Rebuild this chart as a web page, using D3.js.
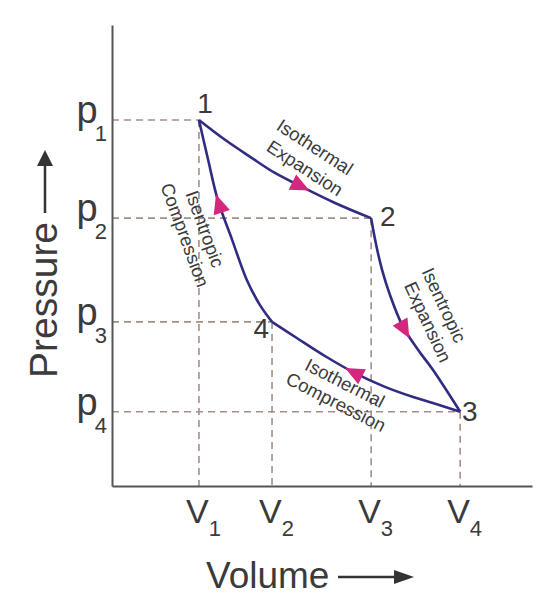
<!DOCTYPE html>
<html>
<head>
<meta charset="utf-8">
<script src="https://cdn.jsdelivr.net/npm/d3@7"></script>
<style>
  html, body { margin: 0; padding: 0; background: #fff; }
  svg { display: block; font-family: "Liberation Sans", Arial, Helvetica, sans-serif; }
</style>
</head>
<body>
<svg id="chart" width="560" height="606"></svg>
<script>
// ---- data (abstract units, 0..100 on both axes) ----
const volumeLabels = ["1", "2", "3", "4"];            // subscripts of V
const volumeValues = [20.7, 38.1, 61.7, 82.9];
const pressureLabels = ["1", "2", "3", "4"];          // subscripts of p
const pressureValues = [79.4, 58.1, 35.6, 16.1];

const stateNames = ["1", "2", "3", "4"];
const stateVolumes = [20.7, 61.7, 82.9, 38.1];
const statePressures = [79.4, 58.1, 16.1, 35.6];

// process curves (volume, pressure)
const isothermalExpansionV = [20.7, 26.9, 32.9, 38.8, 45.2, 53.1, 61.7];
const isothermalExpansionP = [79.4, 75.1, 71.4, 67.9, 64.9, 61.4, 58.1];
const isentropicExpansionV = [61.7, 62.9, 64.3, 66.2, 69.3, 72.9, 76.4, 82.9];
const isentropicExpansionP = [58.1, 52.3, 46.9, 41.4, 34.5, 29.5, 25.2, 16.1];
const isothermalCompressionV = [82.9, 76.4, 71.7, 65.0, 57.4, 50.7, 44.0, 38.1];
const isothermalCompressionP = [16.1, 18.0, 19.3, 21.5, 24.7, 28.2, 32.1, 35.6];
const isentropicCompressionV = [38.1, 35.2, 32.1, 28.6, 25.2, 22.9, 20.7];
const isentropicCompressionP = [35.6, 39.3, 44.7, 53.4, 62.0, 70.7, 79.4];

const processNames = [
  ["Isothermal", "Expansion"],
  ["Isentropic", "Expansion"],
  ["Isothermal", "Compression"],
  ["Isentropic", "Compression"]
];
const arrowFractions = [0.61, 0.54, 0.54, 0.60];

// ---- layout ----
const x = d3.scaleLinear().domain([0, 100]).range([112, 532]);
const y = d3.scaleLinear().domain([0, 100]).range([486, 25]);

const curveColor = "#2f2c82";
const arrowColor = "#d3287e";
const dashColor = "#a48e88";
const axisColor = "#555555";
const textColor = "#3b3b3b";

const svg = d3.select("#chart");

// dashed guide lines
const guides = svg.append("g").attr("stroke", dashColor).attr("stroke-width", 1.6)
  .attr("stroke-dasharray", "7,5").attr("fill", "none");
stateNames.forEach((n, i) => {
  guides.append("line")
    .attr("x1", x(0)).attr("x2", x(stateVolumes[i]))
    .attr("y1", y(statePressures[i])).attr("y2", y(statePressures[i]));
  guides.append("line")
    .attr("x1", x(stateVolumes[i])).attr("x2", x(stateVolumes[i]))
    .attr("y1", y(statePressures[i])).attr("y2", y(0));
});

// axes
const gx = svg.append("g").attr("transform", `translate(0,${y(0)})`)
  .call(d3.axisBottom(x).tickValues([]).tickSizeOuter(0));
const gy = svg.append("g").attr("transform", `translate(${x(0)},0)`)
  .call(d3.axisLeft(y).tickValues([]).tickSizeOuter(0));
[gx, gy].forEach(g => g.select(".domain").attr("stroke", axisColor).attr("stroke-width", 2));

// tick labels with subscripts
volumeValues.forEach((v, i) => {
  const t = svg.append("text").attr("x", x(v) - 13).attr("y", 523)
    .attr("fill", textColor).attr("font-size", 34);
  t.append("tspan").text("V");
  t.append("tspan").attr("dx", 0).attr("dy", 13).attr("font-size", 22).text(volumeLabels[i]);
});
pressureValues.forEach((p, i) => {
  const t = svg.append("text").attr("x", 107).attr("y", y(p) + 3)
    .attr("text-anchor", "end").attr("fill", textColor).attr("font-size", 38);
  t.append("tspan").text("p");
  t.append("tspan").attr("dx", -3).attr("dy", 18).attr("font-size", 22).text(pressureLabels[i]);
});

// axis titles with arrows
svg.append("text").attr("transform", "translate(57,378) rotate(-90)")
  .attr("fill", textColor).attr("font-size", 39).text("Pressure");
svg.append("line").attr("x1", 45).attr("x2", 45).attr("y1", 213).attr("y2", 164)
  .attr("stroke", "#333").attr("stroke-width", 2.5);
svg.append("path").attr("d", "M37,166 L53,166 L45,150 Z").attr("fill", "#333");

svg.append("text").attr("x", 206).attr("y", 588)
  .attr("fill", textColor).attr("font-size", 37).text("Volume");
svg.append("line").attr("x1", 338).attr("x2", 396).attr("y1", 577).attr("y2", 577)
  .attr("stroke", "#333").attr("stroke-width", 2.5);
svg.append("path").attr("d", "M394,570 L394,584 L414,577 Z").attr("fill", "#333");

// process curves
const curves = [
  [isothermalExpansionV, isothermalExpansionP],
  [isentropicExpansionV, isentropicExpansionP],
  [isothermalCompressionV, isothermalCompressionP],
  [isentropicCompressionV, isentropicCompressionP]
];
const line = d3.line().x(d => x(d[0])).y(d => y(d[1])).curve(d3.curveCatmullRom.alpha(0.5));
curves.forEach(([vs, ps], k) => {
  const pts = vs.map((v, i) => [v, ps[i]]);
  const path = svg.append("path").attr("d", line(pts)).attr("fill", "none")
    .attr("stroke", curveColor).attr("stroke-width", 2.6).attr("stroke-linejoin", "round");
  const node = path.node();
  const L = node.getTotalLength();
  const s = arrowFractions[k] * L;
  const a = node.getPointAtLength(s - 2), b = node.getPointAtLength(s + 2);
  const ang = Math.atan2(b.y - a.y, b.x - a.x) * 180 / Math.PI;
  const c = node.getPointAtLength(s);
  svg.append("path").attr("d", "M10,0 L-9,-8.5 L-9,8.5 Z").attr("fill", arrowColor)
    .attr("transform", `translate(${c.x},${c.y}) rotate(${ang})`);
});

// state numbers
const stateLabelPos = [[205, 113, "middle"], [380, 226, "start"], [462, 421, "start"], [269, 338, "end"]];
stateNames.forEach((n, i) => {
  svg.append("text").attr("x", stateLabelPos[i][0]).attr("y", stateLabelPos[i][1])
    .attr("text-anchor", stateLabelPos[i][2]).attr("fill", textColor).attr("font-size", 28).text(n);
});

// process annotations: [cx, cy] for each line, rotation
const annotationPos = [
  [[315, 147], [305, 168], 33],
  [[444, 305], [428, 322], 65],
  [[345, 383], [336, 402], 27],
  [[205, 229], [185, 235], 70]
];
processNames.forEach((lines, k) => {
  lines.forEach((txt, j) => {
    const [cx, cy] = annotationPos[k][j];
    svg.append("text").attr("transform", `translate(${cx},${cy}) rotate(${annotationPos[k][2]})`)
      .attr("text-anchor", "middle").attr("dy", "0.35em")
      .attr("fill", textColor).attr("font-size", 18.5).text(txt);
  });
});
</script>
</body>
</html>
